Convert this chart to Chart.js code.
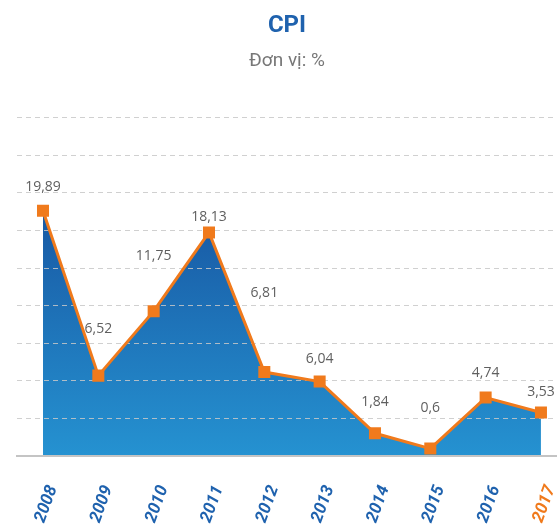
<!DOCTYPE html>
<html>
<head>
<meta charset="utf-8">
<script src="https://cdn.jsdelivr.net/npm/chart.js@4.4.1/dist/chart.umd.min.js"></script>
<style>
  html, body { margin: 0; padding: 0; background: #ffffff; }
  #wrap { width: 557px; height: 531px; position: relative; }
</style>
</head>
<body>
<div id="wrap"><canvas id="c"></canvas></div>
<script>
// ---- data ----
const years = ['2008', '2009', '2010', '2011', '2012', '2013', '2014', '2015', '2016', '2017'];
const cpiValues = [19.89, 6.52, 11.75, 18.13, 6.81, 6.04, 1.84, 0.6, 4.74, 3.53];
const valueLabels = ['19,89', '6,52', '11,75', '18,13', '6,81', '6,04', '1,84', '0,6', '4,74', '3,53'];

// ---- presentation (not data) ----
const labelLift = [24, 47, 55, 15, 79, 23, 31, 41, 25, 20];
const gridStep = 3.05;
const gridCount = 9;
const BLUE = '#1f62ae';
const ORANGE = '#f07a1c';

const valueLabelPlugin = {
  id: 'valueLabels',
  afterDatasetsDraw(chart) {
    const ctx = chart.ctx;
    const meta = chart.getDatasetMeta(0);
    ctx.save();
    ctx.font = '14px "Open Sans", sans-serif';
    ctx.fillStyle = '#5f5f5f';
    ctx.textAlign = 'center';
    ctx.textBaseline = 'middle';
    meta.data.forEach((pt, i) => {
      ctx.fillText(valueLabels[i], pt.x, pt.y - labelLift[i]);
    });
    ctx.restore();
  }
};

const ctx = document.getElementById('c').getContext('2d');
new Chart(ctx, {
  type: 'line',
  data: {
    datasets: [{
      data: cpiValues.map((v, i) => ({ x: i, y: v })),
      borderColor: ORANGE,
      borderWidth: 3,
      tension: 0,
      fill: 'origin',
      backgroundColor: (c) => {
        const area = c.chart.chartArea;
        if (!area) return '#1f78c0';
        const g = c.chart.ctx.createLinearGradient(0, area.top + 90, 0, area.bottom);
        g.addColorStop(0, '#1858a3');
        g.addColorStop(1, '#2592d1');
        return g;
      },
      pointStyle: 'rect',
      pointRadius: 8.5,
      pointBorderWidth: 0,
      pointBackgroundColor: ORANGE,
      pointBorderColor: ORANGE
    }]
  },
  options: {
    responsive: true,
    maintainAspectRatio: false,
    animation: false,
    layout: { padding: { left: 17, right: 0, top: 0, bottom: 0 }, autoPadding: false },
    plugins: {
      legend: { display: false },
      tooltip: { enabled: false },
      filler: { drawTime: 'beforeDraw' },
      title: {
        display: true,
        text: 'CPI',
        color: BLUE,
        font: { family: 'Roboto', size: 24, weight: 'bold' },
        padding: { top: 12, bottom: 9 }
      },
      subtitle: {
        display: true,
        text: 'Đơn vị: %',
        color: '#777777',
        font: { family: 'Roboto', size: 19, weight: 'normal' },
        padding: { top: 0, bottom: 45 }
      }
    },
    scales: {
      x: {
        type: 'linear',
        min: -0.47,
        max: 9.29,
        afterBuildTicks: (axis) => { axis.ticks = years.map((_, i) => ({ value: i })); },
        afterFit: (s) => {
          s.paddingLeft = 0; s.paddingRight = 0; s.paddingTop = 0; s.paddingBottom = 0;
          s.height = 75;
        },
        grid: { display: false, drawTicks: false },
        border: { display: true, color: '#c4c4c4', width: 2 },
        ticks: {
          minRotation: 70,
          maxRotation: 70,
          padding: 27,
          labelOffset: 10,
          autoSkip: false,
          font: { family: 'Roboto', size: 17, weight: 'bold', style: 'italic' },
          color: (c) => (c.tick && c.tick.value === years.length - 1) ? ORANGE : BLUE,
          callback: (v) => years[v]
        }
      },
      y: {
        min: 0,
        max: gridStep * gridCount,
        afterBuildTicks: (axis) => {
          const t = [];
          for (let i = 0; i <= gridCount; i++) t.push({ value: i * gridStep });
          axis.ticks = t;
        },
        afterFit: (s) => { s.width = 0; },
        grid: {
          drawTicks: false,
          color: (c) => c.tick && c.tick.value === 0 ? 'rgba(0,0,0,0)' : 'rgba(200,200,200,0.85)',
          lineWidth: 1
        },
        border: { display: false, dash: [5, 4] },
        ticks: { display: false }
      }
    }
  },
  plugins: [valueLabelPlugin]
});
</script>
</body>
</html>
